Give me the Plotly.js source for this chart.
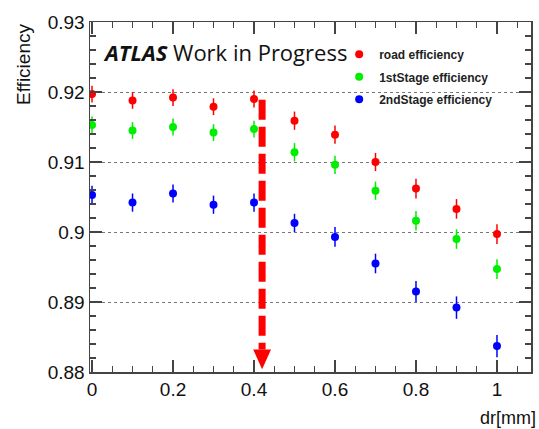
<!DOCTYPE html>
<html>
<head>
<meta charset="utf-8">
<script src="https://cdn.plot.ly/plotly-3.0.1.min.js"></script>
<style>html,body{margin:0;padding:0;background:#fff;}#chart{width:539px;height:429px;}</style>
</head>
<body>
<div id="chart"></div>
<script>
const dr = [0, 0.1, 0.2, 0.3, 0.4, 0.5, 0.6, 0.7, 0.8, 0.9, 1.0];
const roadEff = [0.9197, 0.9188, 0.9192, 0.9179, 0.9190, 0.9159, 0.9139, 0.9100, 0.9062, 0.9033, 0.8997];
const firstStageEff = [0.9153, 0.9145, 0.9150, 0.9142, 0.9147, 0.9114, 0.9096, 0.9059, 0.9016, 0.8990, 0.8947];
const secondStageEff = [0.9053, 0.9042, 0.9055, 0.9039, 0.9042, 0.9013, 0.8993, 0.8955, 0.8915, 0.8892, 0.8837];
const roadErr = [0.0012, 0.0012, 0.0012, 0.0012, 0.0012, 0.0013, 0.0013, 0.0013, 0.0014, 0.0014, 0.0014];
const firstErr = [0.0012, 0.0012, 0.0012, 0.0012, 0.0012, 0.0013, 0.0013, 0.0013, 0.0014, 0.0014, 0.0014];
const secondErr = [0.0013, 0.0013, 0.0013, 0.0013, 0.0013, 0.0013, 0.0014, 0.0014, 0.0015, 0.0016, 0.0016];
const seriesNames = ["road efficiency", "1stStage efficiency", "2ndStage efficiency"];
const seriesColors = ["#ff0000", "#00ee00", "#0000ff"];
const yTicks = [0.88, 0.89, 0.90, 0.91, 0.92, 0.93];
const yTickText = ["0.88", "0.89", "0.9", "0.91", "0.92", "0.93"];
const xTicks = [0, 0.2, 0.4, 0.6, 0.8, 1];
const xTickText = ["0", "0.2", "0.4", "0.6", "0.8", "1"];
// cut marker (arrow) in data units
const arrowX = 0.42, arrowTop = 0.9189, arrowHeadTop = 0.8832, arrowTip = 0.8804, arrowHalfW = 0.022;

const ys = [roadEff, firstStageEff, secondStageEff];
const es = [roadErr, firstErr, secondErr];
const traces = ys.map((y, i) => ({
  x: dr, y: y, type: 'scatter', mode: 'markers', name: '<b>' + seriesNames[i] + '</b>',
  legendgroup: 'g' + i,
  marker: {color: seriesColors[i], size: 8, symbol: 'circle'},
  error_y: {type: 'data', array: es[i], visible: true, color: seriesColors[i], thickness: 1.5, width: 0}
}));

const axisFont = {family: 'Liberation Sans, Arial, sans-serif', size: 19, color: '#111'};
const layout = {
  width: 539, height: 429,
  margin: {l: 90, r: 8, t: 22, b: 57},
  paper_bgcolor: '#fff', plot_bgcolor: '#fff',
  showlegend: true,
  legend: {x: 0.565, y: 0.949, xanchor: 'left', yanchor: 'top', bgcolor: 'rgba(0,0,0,0)',
    font: {family: 'Liberation Sans, Arial, sans-serif', size: 12, color: '#222'}, tracegroupgap: 3.5},
  xaxis: {range: [-0.005, 1.084], tickvals: xTicks, ticktext: xTickText, ticks: 'inside', ticklen: 12,
    tickcolor: '#444', tickwidth: 1.3, showline: true, linecolor: '#444', linewidth: 1.5, mirror: 'allticks',
    showgrid: false, zeroline: false, tickfont: axisFont,
    minor: {dtick: 0.05, tick0: 0, ticks: 'inside', ticklen: 6, tickcolor: '#444', tickwidth: 1.2, showgrid: false}},
  yaxis: {range: [0.88, 0.93], tickvals: yTicks, ticktext: yTickText, ticks: 'inside', ticklen: 12,
    tickcolor: '#444', tickwidth: 1.3, showline: true, linecolor: '#444', linewidth: 1.5, mirror: 'allticks',
    showgrid: true, gridcolor: '#777', griddash: 'dot', gridwidth: 1, zeroline: false, tickfont: axisFont,
    minor: {dtick: 0.002, tick0: 0.88, ticks: 'inside', ticklen: 6, tickcolor: '#444', tickwidth: 1.2, showgrid: false}},
  shapes: [
    {type: 'line', xref: 'x', yref: 'y', x0: arrowX, x1: arrowX, y0: arrowTop, y1: arrowHeadTop,
      line: {color: '#ff0000', width: 7, dash: '20px,7px'}},
    {type: 'path', xref: 'x', yref: 'y',
      path: 'M ' + (arrowX - arrowHalfW) + ' ' + arrowHeadTop + ' L ' + (arrowX + arrowHalfW) + ' ' + arrowHeadTop + ' L ' + arrowX + ' ' + arrowTip + ' Z',
      fillcolor: '#ff0000', line: {color: '#ff0000', width: 0}}
  ],
  annotations: [
    {xref: 'paper', yref: 'paper', x: (101 - 90) / 441, y: 1 - (52 - 22) / 350, xanchor: 'left', yanchor: 'middle',
      showarrow: false, text: '<b><i>ATLAS</i></b> Work in Progress',
      font: {family: 'Open Sans, sans-serif', size: 22, color: '#111'}},
    {xref: 'paper', yref: 'paper', x: (538 - 90) / 441, y: 1 - (418 - 22) / 350, xanchor: 'right', yanchor: 'middle',
      showarrow: false, text: 'dr[mm]', font: {family: 'Liberation Sans, Arial, sans-serif', size: 18, color: '#111'}},
    {xref: 'paper', yref: 'paper', x: (23 - 90) / 441, y: 1 - (65 - 22) / 350, xanchor: 'center', yanchor: 'middle',
      showarrow: false, text: 'Efficiency', textangle: -90, font: axisFont}
  ]
};
Plotly.newPlot('chart', traces, layout, {displayModeBar: false, staticPlot: true});
</script>
</body>
</html>
